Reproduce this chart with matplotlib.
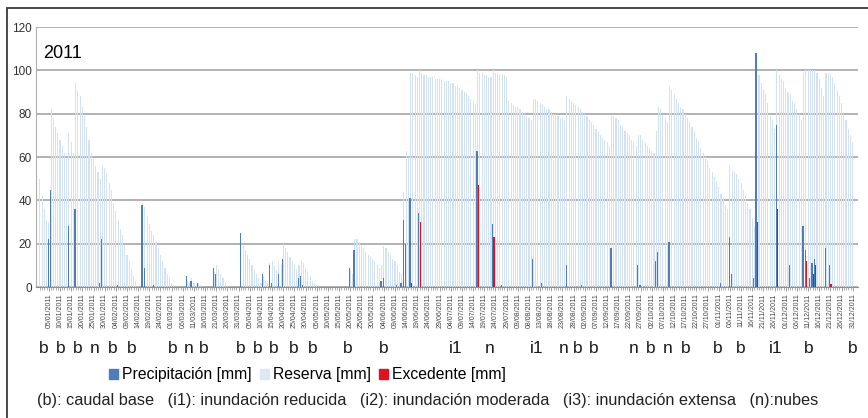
import numpy as np
import pandas as pd
import matplotlib
matplotlib.use("Agg")
import matplotlib.pyplot as plt
from matplotlib.patches import Patch, Rectangle

plt.rcParams['font.family'] = ['Liberation Sans', 'DejaVu Sans']

# reserva diaria [mm], 01/01/2011 ... 31/12/2011
reserva = [
    50, 42, 36, 31, 30, 82, 78, 74, 71, 68,
    65, 62, 59, 71, 67, 62, 94, 91, 88, 83,
    79, 74, 68, 62, 59, 56, 53, 50, 56, 55,
    52, 48, 45, 39, 35, 31, 27, 24, 19, 15,
    12, 8, 5, 3, 1, 0, 39, 37, 33, 29,
    26, 24, 21, 18, 15, 12, 9, 6, 4, 2,
    1, 0, 0, 0, 0, 0, 3, 2, 4, 2,
    1, 2, 1, 0, 0, 0, 0, 0, 7, 10,
    8, 6, 4, 2, 1, 0, 0, 0, 0, 0,
    21, 19, 17, 15, 13, 10, 8, 6, 4, 2,
    5, 3, 2, 11, 12, 10, 8, 12, 10, 20,
    18, 16, 14, 12, 10, 8, 10, 12, 11, 9,
    7, 5, 3, 2, 1, 0, 0, 0, 0, 0,
    0, 0, 0, 0, 0, 0, 0, 0, 0, 8,
    6, 22, 22, 21, 19, 18, 16, 15, 14, 13,
    12, 10, 9, 10, 19, 18, 16, 15, 13, 12,
    10, 7, 6, 44, 63, 60, 99, 99, 98, 97,
    100, 99, 98, 98, 97, 97, 97, 96, 96, 96,
    96, 95, 95, 95, 94, 94, 93, 93, 92, 91,
    90, 89, 88, 87, 86, 84, 100, 99, 99, 98,
    98, 97, 97, 100, 99, 99, 98, 98, 98, 97,
    86, 85, 84, 83, 83, 82, 81, 80, 79, 78,
    77, 87, 87, 86, 85, 84, 83, 82, 82, 81,
    80, 80, 79, 78, 78, 77, 88, 87, 86, 85,
    84, 83, 82, 81, 80, 79, 77, 76, 75, 73,
    72, 70, 69, 68, 67, 65, 79, 79, 78, 77,
    75, 74, 72, 71, 70, 68, 67, 65, 70, 70,
    68, 67, 65, 64, 63, 62, 72, 83, 82, 79,
    78, 76, 93, 91, 89, 87, 85, 83, 82, 80,
    78, 76, 74, 72, 69, 67, 64, 62, 60, 58,
    55, 53, 51, 49, 46, 43, 41, 38, 36, 56,
    54, 53, 52, 50, 48, 45, 42, 39, 36, 32,
    28, 100, 98, 94, 91, 89, 85, 79, 77, 73,
    100, 98, 96, 95, 92, 90, 89, 86, 85, 82,
    80, 77, 99, 100, 100, 100, 100, 100, 99, 96,
    92, 88, 99, 99, 98, 97, 94, 91, 88, 85,
    80, 77, 73, 70, 67,
]
dias = np.arange(1, len(reserva) + 1)

# precipitacion (solo dias con lluvia)
precip_dia = [5, 6, 14, 17, 28, 29, 36, 47, 48, 52,
              67, 69, 72, 79, 80, 91, 101, 104, 105, 108,
              110, 117, 118, 119, 140, 142, 154, 155, 161, 163,
              164, 165, 167, 171, 197, 204, 208, 222, 226, 237,
              244, 257, 269, 270, 277, 278, 283, 306, 310, 311,
              321, 322, 331, 337, 343, 344, 346, 347, 348, 353,
              355]
precip_mm = [22, 45, 28, 36, 2, 22, 1, 38, 9, 1,
             5, 3, 2, 9, 6, 25, 6, 10, 2, 6,
             13, 4, 5, 1, 9, 17, 3, 4, 1, 2,
             31, 20, 41, 34, 63, 29, 1, 13, 2, 10,
             1, 18, 10, 1, 12, 16, 21, 2, 23, 6,
             4, 108, 75, 10, 28, 17, 4, 11, 13, 18,
             10]

# excedente
exced_dia = [167, 171, 197, 204, 322, 331, 344, 347, 348, 355]
exced_mm = [2, 30, 47, 23, 30, 36, 12, 6, 10, 1.5]

# estado observado en imagenes
obs_dia = [2.7, 10.3, 17.9, 25.5, 33.6, 42.1, 60.5, 67.6, 74.3, 90.9,
           98.5, 105.7, 114.6, 123.2, 138.8, 154.9, 187.2, 202.4, 223.5, 235.6,
           241.8, 249, 266.9, 274.5, 282.1, 290.2, 304.5, 314.8, 330.5, 345.3,
           365]
obs_cod = ['b', 'b', 'b', 'n', 'b', 'b', 'b', 'n', 'b', 'b',
           'b', 'b', 'b', 'b', 'b', 'b', 'i1', 'n', 'i1', 'n',
           'b', 'b', 'n', 'b', 'n', 'b', 'b', 'b', 'i1', 'b',
           'b']

fechas = pd.date_range('2011-01-05', '2011-12-31', freq='5D')
tick_dia = [f.dayofyear for f in fechas]
tick_lab = [f.strftime('%d/%m/%Y') for f in fechas]

c_prec = '#4d7dbb'
c_res = '#d2e2f2'
c_exc = '#e0101e'

fig = plt.figure(figsize=(8.68, 4.18), dpi=100)
ax = fig.add_axes([36/868, 1 - 287/418, 822/868, 260/418])

ax.bar(dias, reserva, width=0.5, color=c_res, linewidth=0, zorder=2)
ax.bar(np.array(precip_dia) - 0.3, precip_mm, width=0.55, color=c_prec, linewidth=0, zorder=3)
ax.bar(np.array(exced_dia) + 0.3, exced_mm, width=0.6, color=c_exc, linewidth=0, zorder=4)

ax.set_xlim(-0.75, 367.35)
ax.set_ylim(0, 120)
ax.set_yticks(range(0, 121, 20))
ax.grid(axis='y', color='#a6a6a6', lw=1.2)
ax.set_axisbelow(True)

ax.set_xticks(tick_dia)
ax.set_xticklabels(tick_lab, rotation=90, fontsize=5, color='#444444')
ax.set_xticks(dias, minor=True)
ax.tick_params(axis='x', which='major', length=3, width=0.6, color='#909090', pad=1.5)
ax.tick_params(axis='x', which='minor', length=2, width=0.5, color='#909090')
ax.tick_params(axis='y', length=0, pad=3, labelsize=8.5, labelcolor='#333333')

for s in ['top', 'right']:
    ax.spines[s].set_visible(False)
ax.spines['left'].set_color('#b0b0b0')
ax.spines['bottom'].set_color('#909090')

ax.text(0.0085, 0.9, '2011', transform=ax.transAxes, fontsize=13, va='center')

for d, c in zip(obs_dia, obs_cod):
    ax.text(d, -0.238, c, transform=ax.get_xaxis_transform(), ha='center', va='center',
            fontsize=12.5, color='#1a1a1a')

handles = [Patch(color=c_prec, label='Precipitación [mm]'),
           Patch(color='#dde8f4', label='Reserva [mm]'),
           Patch(color=c_exc, label='Excedente [mm]')]
fig.legend(handles=handles, loc='center left', bbox_to_anchor=(109/868, 1 - 375/418),
           ncol=3, frameon=False, fontsize=11.3, handlelength=0.6, handleheight=0.6,
           handletextpad=0.25, columnspacing=0.5, borderpad=0, borderaxespad=0)

fig.text(37/868, 1 - 400/418,
         '(b): caudal base   (i1): inundación reducida   (i2): inundación moderada   '
         '(i3): inundación extensa   (n):nubes',
         fontsize=11.7, va='center', color='#222222')

fig.add_artist(Rectangle((7/868, -0.1), 1.0, (418 - 8)/418 + 0.1, transform=fig.transFigure,
                         fill=False, edgecolor='#3a3a3a', lw=1.3))

fig.savefig('out.png', dpi=100)
